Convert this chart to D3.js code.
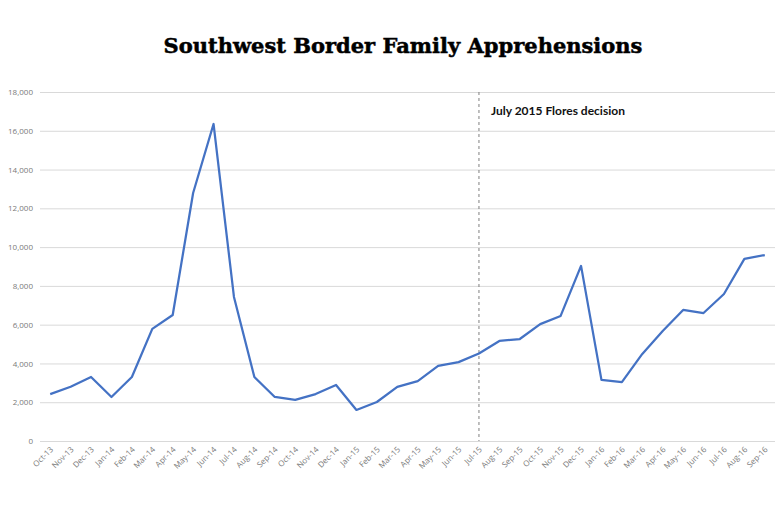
<!DOCTYPE html>
<html>
<head>
<meta charset="utf-8">
<script src="https://cdn.jsdelivr.net/npm/d3@7"></script>
<style>
  body { margin: 0; background: #fff; }
  svg { display: block; }
</style>
</head>
<body>
<svg width="780" height="520"></svg>
<script>
// monthly family apprehensions, Oct-13 .. Sep-16
var months = ['Oct-13','Nov-13','Dec-13','Jan-14','Feb-14','Mar-14','Apr-14','May-14','Jun-14','Jul-14','Aug-14','Sep-14',
  'Oct-14','Nov-14','Dec-14','Jan-15','Feb-15','Mar-15','Apr-15','May-15','Jun-15','Jul-15','Aug-15','Sep-15',
  'Oct-15','Nov-15','Dec-15','Jan-16','Feb-16','Mar-16','Apr-16','May-16','Jun-16','Jul-16','Aug-16','Sep-16'];
var apprehensions = [2420, 2800, 3300, 2270, 3300, 5780, 6500, 12790, 16350, 7430, 3300, 2270,
  2120, 2420, 2890, 1600, 2010, 2790, 3090, 3870, 4070, 4510, 5160, 5260,
  6030, 6450, 9030, 3150, 3040, 4490, 5670, 6760, 6600, 7580, 9390, 9590];
var yTicks = [0, 2000, 4000, 6000, 8000, 10000, 12000, 14000, 16000, 18000];
var markerMonth = 'Jul-15';
var markerLabel = 'July 2015 Flores decision';

var svg = d3.select('svg');
var plotL = 40, plotR = 775, plotT = 92, plotB = 441;

var x = d3.scalePoint().domain(months).range([plotL, plotR]).padding(0.5);
var y = d3.scaleLinear().domain([0, 18000]).range([plotB, plotT]);

svg.append('text')
  .attr('x', 403).attr('y', 53)
  .attr('text-anchor', 'middle')
  .attr('font-family', 'DejaVu Serif')
  .attr('font-weight', 'bold')
  .attr('font-size', 21)
  .attr('fill', '#000')
  .attr('stroke', '#000').attr('stroke-width', 0.5)
  .text('Southwest Border Family Apprehensions');

// gridlines + y labels
var yAxis = svg.append('g')
  .attr('transform', 'translate(' + plotL + ',0)')
  .call(d3.axisLeft(y).tickValues(yTicks).tickSize(-(plotR - plotL)).tickPadding(7)
    .tickFormat(d3.format(',')));
yAxis.select('.domain').remove();
yAxis.selectAll('line').attr('stroke', '#d9d9d9').attr('stroke-width', 1);
yAxis.selectAll('text').attr('fill', '#7a7a7a').attr('font-family', 'Open Sans').attr('font-size', 8);

// x labels
var xAxis = svg.append('g')
  .attr('transform', 'translate(0,' + plotB + ')')
  .call(d3.axisBottom(x).tickSize(0).tickPadding(0));
xAxis.select('.domain').remove();
xAxis.selectAll('text')
  .attr('fill', '#7a7a7a').attr('font-family', 'Open Sans').attr('font-size', 8)
  .attr('text-anchor', 'end')
  .attr('dy', 0)
  .attr('transform', 'translate(3,9) rotate(-45)');

// Flores marker
svg.append('line')
  .attr('x1', x(markerMonth)).attr('x2', x(markerMonth))
  .attr('y1', plotT).attr('y2', plotB)
  .attr('stroke', '#7f7f7f').attr('stroke-width', 1)
  .attr('stroke-dasharray', '3,3');

svg.append('text')
  .attr('x', x(markerMonth) + 12).attr('y', 115)
  .attr('font-family', 'Lato').attr('font-weight', 'bold')
  .attr('font-size', 12).attr('fill', '#111')
  .text(markerLabel);

var line = d3.line()
  .x(function(d, i) { return x(months[i]); })
  .y(function(d) { return y(d); });

svg.append('path')
  .datum(apprehensions)
  .attr('d', line)
  .attr('fill', 'none')
  .attr('stroke', '#4472c4')
  .attr('stroke-width', 2.25)
  .attr('stroke-linejoin', 'round');
</script>
</body>
</html>
